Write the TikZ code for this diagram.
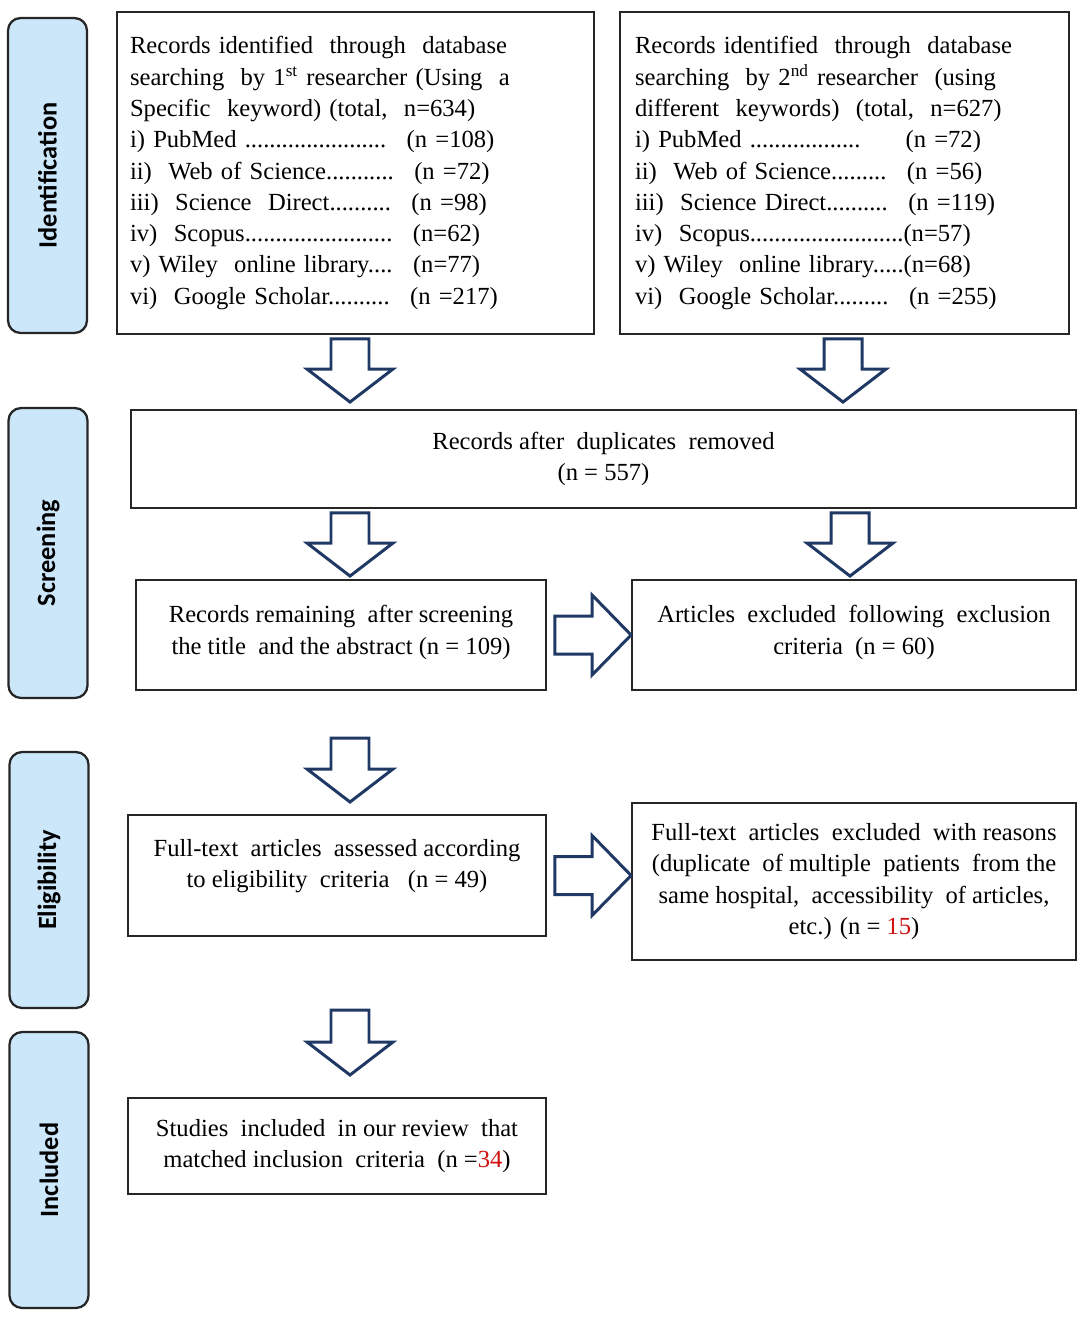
\documentclass[tikz,border=0pt]{standalone}
\usepackage{fontspec}
\setmainfont{Liberation Serif}
\newfontfamily\tabfont{Carlito}
\usetikzlibrary{calc}
\definecolor{tab-blue}{HTML}{CCE6FA}
\definecolor{arrow-navy}{HTML}{1F3864}
\definecolor{frame-gray}{HTML}{262626}
\definecolor{count-red}{HTML}{D01010}

% hollow block arrows, drawn from start point to tip
\newcommand{\blockdown}[2]{%
  \draw[block] ($(#1)+(-19,0)$) -- ($(#1)+(19,0)$) -- ($(#2)+(19,-33)$)
    -- ($(#2)+(43,-33)$) -- (#2) -- ($(#2)+(-43,-33)$)
    -- ($(#2)+(-19,-33)$) -- cycle;}
\newcommand{\blockright}[2]{%
  \draw[block] ($(#1)+(0,-19)$) -- ($(#2)+(-39,-19)$) -- ($(#2)+(-39,-40)$)
    -- (#2) -- ($(#2)+(-39,40)$) -- ($(#2)+(-39,19)$)
    -- ($(#1)+(0,19)$) -- cycle;}

\begin{document}
\begin{tikzpicture}[x=0.02cm, y=-0.02cm,
    box/.style={draw=frame-gray, line width=1.1pt, fill=white, inner sep=0pt,
      font=\fontsize{14}{17.8}\selectfont},
    tab/.style={draw=frame-gray, line width=1.3pt, fill=tab-blue,
      rounded corners=0.25cm, rotate=90, minimum height=1.58cm,
      font=\tabfont\bfseries\fontsize{15}{18}\selectfont},
    block/.style={draw=arrow-navy, line width=1.7pt, fill=white, line join=miter}]
  \useasboundingbox (0,0) rectangle (1084,1322);

  % phase tabs
  \node[tab, minimum width=6.3cm] (idtab) at (47.5,175.5) {Identification};
  \node[tab, minimum width=5.8cm] (sctab) at (48,553) {Screening};
  \node[tab, minimum width=5.12cm] (eltab) at (49,880) {Eligibility};
  \node[tab, minimum width=5.52cm] (intab) at (49,1170) {Included};

  % identification
  \node[box, minimum width=9.54cm, minimum height=6.44cm, text width=9.02cm,
        align=left] (b1) at (355.5,173) {%
    Records identified~ through~ database\\
    searching~ by 1\textsuperscript{st} researcher (Using~ a\\
    Specific~ keyword) (total,~ n=634)\\
    i) PubMed .......................~ (n =108)\\
    ii)~ Web of Science...........~ (n =72)\\
    iii)~ Science~ Direct..........~ (n =98)\\
    iv)~ Scopus........................~ (n=62)\\
    v) Wiley~ online library....~ (n=77)\\
    vi)~ Google Scholar..........~ (n =217)};
  \node[box, minimum width=8.98cm, minimum height=6.44cm, text width=8.38cm,
        align=left] (b2) at (844.5,173) {%
    Records identified~ through~ database\\
    searching~ by 2\textsuperscript{nd} researcher~ (using\\
    different~ keywords)~ (total,~ n=627)\\
    i) PubMed ..................~~~~ (n =72)\\
    ii)~ Web of Science.........~ (n =56)\\
    iii)~ Science Direct..........~ (n =119)\\
    iv)~ Scopus.........................(n=57)\\
    v) Wiley~ online library.....(n=68)\\
    vi)~ Google Scholar.........~ (n =255)};

  % screening
  \node[box, minimum width=18.9cm, minimum height=1.96cm, align=center]
    (dup) at (603.5,459) {Records after~ duplicates~ removed\\(n = 557)};
  \node[box, minimum width=8.2cm, minimum height=2.2cm, align=center]
    (rem) at (341,635)
    {Records remaining~ after screening\\the title~ and the abstract (n = 109)\\[-12pt]\mbox{}};
  \node[box, minimum width=8.88cm, minimum height=2.2cm, align=center]
    (exa) at (854,635)
    {Articles~ excluded~ following~ exclusion\\criteria~ (n = 60)\\[-12pt]\mbox{}};

  % eligibility
  \node[box, minimum width=8.36cm, minimum height=2.42cm, align=center]
    (full) at (337,875.5)
    {Full-text~ articles~ assessed according\\to eligibility~ criteria~~ (n = 49)\\[-4pt]\mbox{}};
  \node[box, minimum width=8.88cm, minimum height=3.14cm, align=center]
    (exf) at (854,881.5)
    {Full-text~ articles~ excluded~ with reasons\\
     (duplicate~ of multiple~ patients~ from the\\
     same hospital,~ accessibility~ of articles,\\
     etc.) (n = \textcolor{count-red}{15})};

  % included
  \node[box, minimum width=8.36cm, minimum height=1.92cm, align=center]
    (inc) at (337,1146)
    {Studies~ included~ in our review~ that\\
     matched inclusion~ criteria~ (n =\textcolor{count-red}{34})};

  % arrow ends
  \coordinate (a1s) at ($(350,0 |- b1.south)+(0,4)$);
  \coordinate (a1e) at ($(350,0 |- dup.north)+(0,-7)$);
  \coordinate (a2s) at ($(843,0 |- b2.south)+(0,4)$);
  \coordinate (a2e) at ($(843,0 |- dup.north)+(0,-7)$);
  \coordinate (a3s) at ($(350,0 |- dup.south)+(0,4)$);
  \coordinate (a3e) at ($(350,0 |- rem.north)+(0,-3)$);
  \coordinate (a4s) at ($(850,0 |- dup.south)+(0,4)$);
  \coordinate (a4e) at ($(850,0 |- exa.north)+(0,-3)$);
  \coordinate (a5s) at (350,738);
  \coordinate (a5e) at (350,802);
  \coordinate (a6s) at (350,1010);
  \coordinate (a6e) at (350,1075);
  \coordinate (a7s) at ($(rem.east)+(8,0)$);
  \coordinate (a7e) at (rem.east -| exa.west);
  \coordinate (a8s) at ($(full.east)+(8,0)$);
  \coordinate (a8e) at (full.east -| exf.west);

  \blockdown{a1s}{a1e}
  \blockdown{a2s}{a2e}
  \blockdown{a3s}{a3e}
  \blockdown{a4s}{a4e}
  \blockdown{a5s}{a5e}
  \blockdown{a6s}{a6e}
  \blockright{a7s}{a7e}
  \blockright{a8s}{a8e}
\end{tikzpicture}
\end{document}
